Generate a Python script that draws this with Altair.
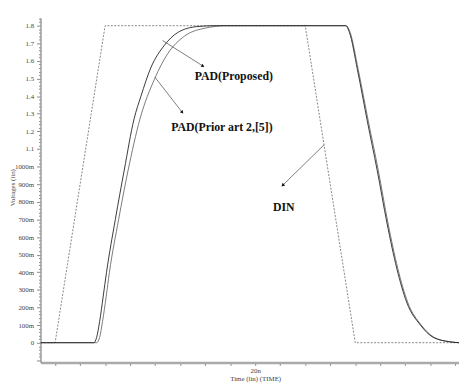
import math
import altair as alt
import pandas as pd

# ---- data (time in ns, voltage in V) ----
din_t = [-1.46, 0.0, 5.0, 25.0, 30.0, 40.45]
din_v = [0.0, 0.0, 1.8, 1.8, 0.0, 0.0]

prop_t = [-1.46, 3.86, 4.15, 4.45, 4.8, 5.14, 6.02, 6.91, 7.89, 8.58, 9.56, 10.94, 12.22,
          14.19, 16.0, 29.04, 29.43, 30.22, 31.2, 32.19, 33.17, 34.16, 35.14, 36.52,
          37.8, 39.47, 40.45]
prop_v = [0.0, 0.0, 0.03, 0.12, 0.26, 0.40, 0.70, 0.98, 1.27, 1.40, 1.56, 1.69, 1.76,
          1.795, 1.80, 1.80, 1.76, 1.55, 1.26, 0.98, 0.68, 0.42, 0.23, 0.10,
          0.03, 0.005, 0.0]

prior_t = [-1.46, 4.15, 4.45, 4.74, 5.1, 5.43, 6.35, 7.30, 8.48, 9.96, 11.24, 12.91,
           14.88, 17.14, 29.1, 29.5, 30.3, 31.3, 32.3, 33.27, 34.26, 35.24, 36.6,
           37.9, 39.5, 40.45]
prior_v = [0.0, 0.0, 0.03, 0.12, 0.26, 0.40, 0.70, 0.98, 1.27, 1.50, 1.64, 1.74,
           1.785, 1.80, 1.80, 1.76, 1.55, 1.26, 0.98, 0.68, 0.42, 0.23, 0.10,
           0.03, 0.005, 0.0]

x_ticks = [i * 2.5 for i in range(0, 17)]
y_ticks = [round(i * 0.02, 2) for i in range(-5, 93)]

ann_label = ["PAD(Proposed)", "PAD(Prior art 2,[5])", "DIN"]
ann_tx = [13.95, 11.6, 21.77]
ann_ty = [1.515, 1.224, 0.771]
arr_t1 = [10.74, 9.96, 26.89]
arr_v1 = [1.716, 1.509, 1.124]
arr_t2 = [14.78, 12.71, 22.75]
arr_v2 = [1.571, 1.308, 0.894]

# ---- layout ----
W, H = 425, 350
XDOM = [-1.46, 40.37]
YDOM = [-0.112, 1.845]
kx = W / (XDOM[1] - XDOM[0])
ky = H / (YDOM[1] - YDOM[0])

angles = []
for a, b, c, d in zip(arr_t1, arr_v1, arr_t2, arr_v2):
    dx = (c - a) * kx
    dy = -(d - b) * ky
    angles.append(math.degrees(math.atan2(dx, -dy)) % 360)

df_din = pd.DataFrame({"t": din_t, "v": din_v})
df_prop = pd.DataFrame({"t": prop_t, "v": prop_v})
df_prior = pd.DataFrame({"t": prior_t, "v": prior_v})
df_ann = pd.DataFrame({"label": ann_label, "t": ann_tx, "v": ann_ty})
df_arr = pd.DataFrame({"t": arr_t1, "v": arr_v1, "t2": arr_t2, "v2": arr_v2, "ang": angles})
df_head = pd.DataFrame({"t": arr_t2, "v": arr_v2, "ang": angles})

FONT = "Liberation Serif"
xs = alt.Scale(domain=XDOM, nice=False, zero=False)
ys = alt.Scale(domain=YDOM, nice=False, zero=False)

major = "abs(datum.value*10 - round(datum.value*10)) < 0.001"

x_axis = alt.Axis(
    values=x_ticks,
    labelExpr="datum.value == 20 ? '20n' : ''",
    title="Time (lin) (TIME)",
    grid=False,
    tickSize=3,
    labelPadding=1,
    labelFont=FONT, labelFontSize=7, labelColor="#444",
    titleFont=FONT, titleFontSize=7, titleFontWeight="normal", titleColor="#444",
    titleX=218, titleY=16, titleBaseline="middle",
    domainColor="#aaa", domainWidth=2.5, tickColor="#888",
    labelFlush=False,
)
y_axis = alt.Axis(
    values=y_ticks,
    labelExpr="datum.value < -0.001 || !(" + major + ") ? '' : (datum.value < 0.001 ? '0' : (datum.value < 1.05 ? round(datum.value*1000) + 'm' : format(datum.value, '.1f')))",
    title="Voltages (lin)",
    grid=False,
    tickSize={"condition": {"test": major, "value": 4}, "value": 2},
    labelPadding=3,
    labelFont=FONT, labelFontSize=7, labelColor="#444",
    titleFont=FONT, titleFontSize=7, titleFontWeight="normal", titleColor="#444",
    titleX=-28, titleY=172, titleBaseline="middle",
    domainColor="#999", domainWidth=1.5, tickColor="#888",
    labelFlush=False, labelOverlap=False,
)

X = alt.X("t:Q", scale=xs, axis=x_axis)
Y = alt.Y("v:Q", scale=ys, axis=y_axis)

din = alt.Chart(df_din).mark_line(color="#777", strokeWidth=0.9, strokeDash=[2, 1.5], clip=True).encode(x=X, y=Y)
prior = alt.Chart(df_prior).mark_line(color="#6a6a6a", strokeWidth=0.9, interpolate="monotone", clip=True).encode(x=X, y=Y)
prop = alt.Chart(df_prop).mark_line(color="#222", strokeWidth=0.9, interpolate="monotone", clip=True).encode(x=X, y=Y)
arrows = alt.Chart(df_arr).mark_rule(color="#444", strokeWidth=0.7).encode(x=X, y=Y, x2="t2:Q", y2="v2:Q")
heads = alt.Chart(df_head).mark_point(filled=True, shape="triangle-up", size=14, color="#111", opacity=1).encode(
    x=X, y=Y, angle=alt.Angle("ang:Q", scale=None))
texts = alt.Chart(df_ann).mark_text(align="left", baseline="middle", font=FONT, fontWeight="bold",
                                    fontSize=12, color="#111").encode(x=X, y=Y, text="label:N")

chart = alt.layer(din, prior, prop, arrows, heads, texts).properties(
    width=W, height=H,
    autosize=alt.AutoSizeParams(type="none"),
    padding={"left": 33, "top": 7, "right": 0, "bottom": 22},
    background="white",
).configure_view(stroke=None)

chart.save("out.html", embed_options={"renderer": "svg", "actions": False})
